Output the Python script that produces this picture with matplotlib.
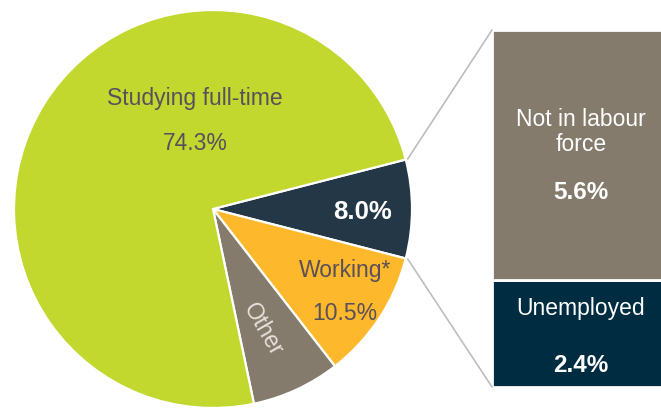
import numpy as np
import matplotlib

matplotlib.use("Agg")
import matplotlib.pyplot as plt
from matplotlib.patches import ConnectionPatch

plt.rcParams["font.family"] = ["Liberation Sans", "DejaVu Sans"]

# pie: clockwise from the exploded slice
pie_labels = ["Not studying, looking/other", "Working*", "Other", "Studying full-time"]
pie_values = [8.0, 10.5, 7.2, 74.3]
pie_colors = ["#243746", "#FDB92B", "#857B6C", "#C2D82E"]

# breakdown of the 8.0% slice
bar_labels = ["Unemployed", "Not in labour\nforce"]
bar_values = [2.4, 5.6]
bar_colors = ["#002C41", "#857B6C"]

W, H = 661, 410
fig = plt.figure(figsize=(W / 100, H / 100), dpi=100)

# stacked bar for the breakdown (added first so the text layer sits on top)
bx0, bx1, by0, by1 = 492, 680, H - 388, H - 31
bax = fig.add_axes([bx0 / W, by0 / H, (bx1 - bx0) / W, (by1 - by0) / H])
bax.set_xlim(0, 1)
bax.set_ylim(0, sum(bar_values))
bax.axis("off")
bottom = 0
for val, col in zip(bar_values, bar_colors):
    bax.bar(0.5, val, width=1.0, bottom=bottom, color=col, edgecolor="white", linewidth=2)
    bottom += val

# pie axes in pixel units (y measured from bottom)
ax = fig.add_axes([0, 0, 1, 1])
cx, cy, r = 213, H - 210, 199
start = 360 * pie_values[0] / 100 / 2
ax.pie(pie_values, colors=pie_colors, startangle=start, counterclock=False,
       center=(cx, cy), radius=r, frame=True,
       wedgeprops=dict(edgecolor="white", linewidth=1.6))
ax.set_xlim(0, W)
ax.set_ylim(0, H)
ax.set_aspect("equal")
ax.axis("off")

txt_dark = "#5A4F5C"
fs = 16.5
fsb = 17.5


def put(x, y, s, **kw):
    # x, y given as pixel positions from the top-left corner
    ax.text(x, H - y, s, ha="center", va="center", **kw)


put(195, 98, pie_labels[3], fontsize=fs, color=txt_dark)
put(195, 143, f"{pie_values[3]}%", fontsize=fs, color=txt_dark)
put(362, 212, f"{pie_values[0]}%", fontsize=fsb + 1, color="white", fontweight="bold")
put(345, 270, pie_labels[1], fontsize=fs, color=txt_dark)
put(345, 314, f"{pie_values[1]}%", fontsize=fs, color=txt_dark)
put(263, 330, pie_labels[2], fontsize=fs, color="#E6E2DC", rotation=-60)

put(581, 132, bar_labels[1], fontsize=fs, color="white", linespacing=1.15)
put(581, 193, f"{bar_values[1]}%", fontsize=fsb, color="white", fontweight="bold")
put(581, 309, bar_labels[0], fontsize=fs, color="white")
put(581, 366, f"{bar_values[0]}%", fontsize=fsb, color="white", fontweight="bold")

# connector lines from slice corners to bar corners
for ang, yb in [(start, sum(bar_values)), (start - 360 * pie_values[0] / 100, 0)]:
    t = np.deg2rad(ang)
    p = (cx + (r + 2) * np.cos(t), cy + (r + 2) * np.sin(t))
    con = ConnectionPatch(xyA=p, coordsA=ax.transData, xyB=(0, yb), coordsB=bax.transData,
                          color="#BDBDBD", linewidth=1.2)
    fig.add_artist(con)

fig.savefig("out.png", dpi=100)
